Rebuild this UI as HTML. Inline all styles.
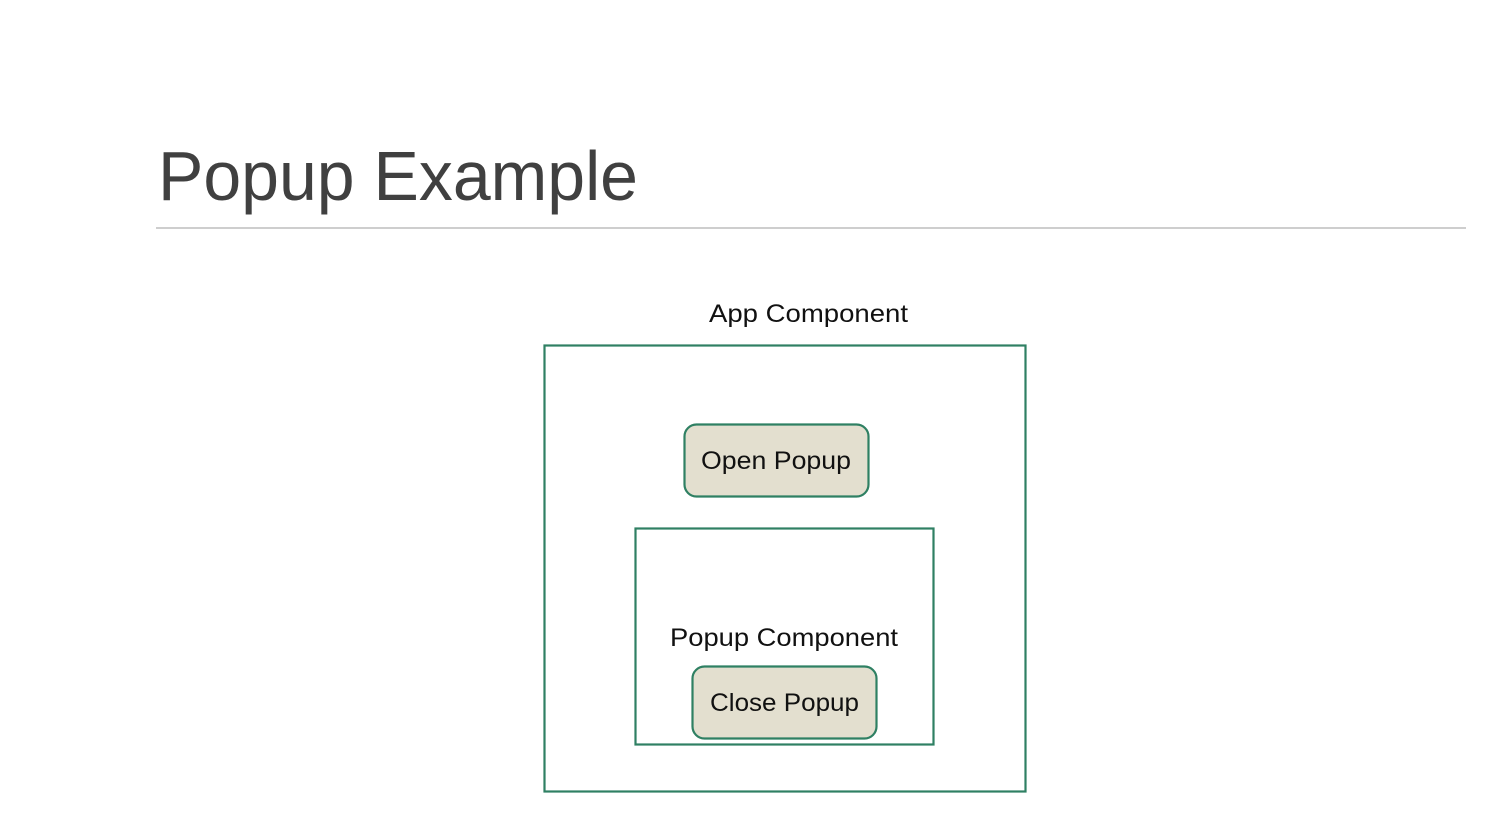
<!DOCTYPE html>
<html><head><meta charset="utf-8"><style>html,body{margin:0;padding:0;background:#fff}svg{display:block}</style></head>
<body>
<svg width="1488" height="827" viewBox="0 0 1488 827" xmlns="http://www.w3.org/2000/svg" font-family="Liberation Sans, sans-serif">
<rect width="1488" height="827" fill="#fff"/>
<text x="158" y="200" font-size="70" fill="#404040" textLength="480" lengthAdjust="spacingAndGlyphs">Popup Example</text>
<line x1="156" y1="228" x2="1466" y2="228" stroke="#bdbdbd" stroke-width="1.5"/>
<text x="709" y="322" font-size="25" fill="#111" textLength="199" lengthAdjust="spacingAndGlyphs">App Component</text>
<rect x="544.5" y="345.5" width="481" height="446" fill="none" stroke="#2f8063" stroke-width="2.2"/>
<rect x="684.5" y="424.5" width="184" height="72" rx="12" fill="#e3dfcf" stroke="#2f8063" stroke-width="2.2"/>
<text x="701" y="469" font-size="25" fill="#111" textLength="150" lengthAdjust="spacingAndGlyphs">Open Popup</text>
<rect x="635.5" y="528.5" width="298" height="216" fill="none" stroke="#2f8063" stroke-width="2.2"/>
<text x="670" y="646" font-size="25" fill="#111" textLength="228" lengthAdjust="spacingAndGlyphs">Popup Component</text>
<rect x="692.5" y="666.5" width="184" height="72" rx="12" fill="#e3dfcf" stroke="#2f8063" stroke-width="2.2"/>
<text x="710" y="711" font-size="25" fill="#111" textLength="149" lengthAdjust="spacingAndGlyphs">Close Popup</text>
</svg>
</body></html>
